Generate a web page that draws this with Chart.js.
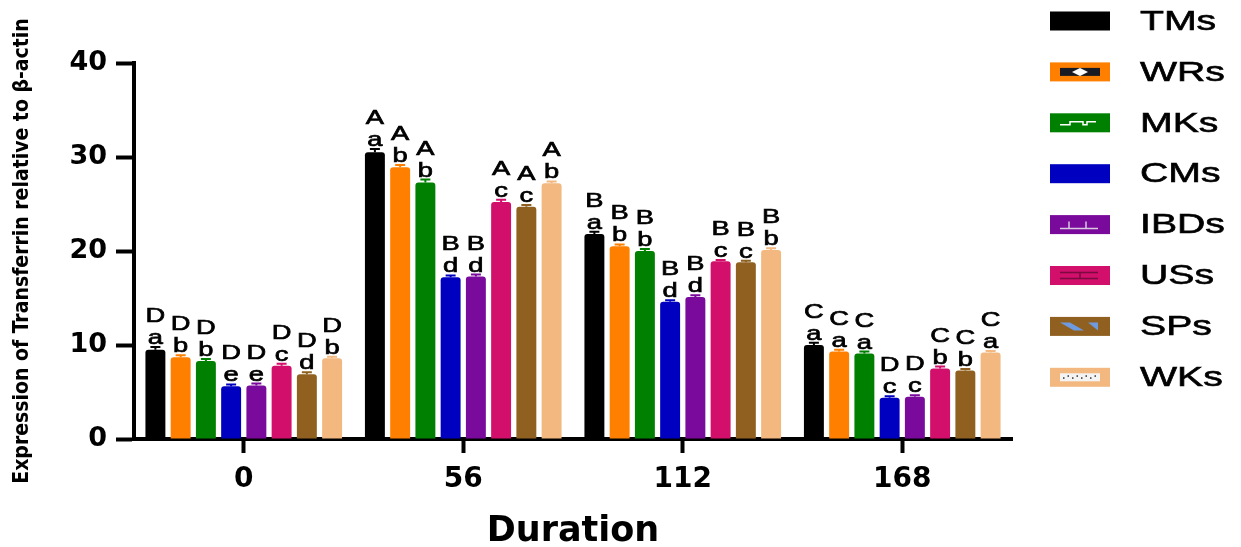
<!DOCTYPE html>
<html>
<head>
<meta charset="utf-8">
<script src="https://cdn.jsdelivr.net/npm/chart.js@4"></script>
<style>
    html, body { margin: 0; padding: 0; background: #fff; }
    #wrap { width: 1241px; height: 547px; }
</style>
</head>
<body>
<div id="wrap"><canvas id="chart"></canvas></div>
<script>
// data
const duraciones = ["0", "56", "112", "168"];
const grupos = ["TMs", "WRs", "MKs", "CMs", "IBDs", "USs", "SPs", "WKs"];

const tms  = [9.5, 30.5, 21.8, 10.0];
const wrs  = [8.7, 28.9, 20.5, 9.3];
const mks  = [8.3, 27.3, 20.0, 9.1];
const cms  = [5.6, 17.2, 14.6, 4.4];
const ibds = [5.7, 17.3, 15.1, 4.5];
const uss  = [7.8, 25.2, 18.9, 7.5];
const sps  = [6.9, 24.7, 18.8, 7.3];
const wks  = [8.6, 27.2, 20.1, 9.2];

const errTms  = [0.3, 0.35, 0.25, 0.25];
const errWrs  = [0.2, 0.25, 0.2, 0.2];
const errMks  = [0.2, 0.3, 0.2, 0.2];
const errCms  = [0.2, 0.2, 0.15, 0.15];
const errIbds = [0.2, 0.2, 0.2, 0.15];
const errUss  = [0.2, 0.25, 0.15, 0.2];
const errSps  = [0.2, 0.2, 0.15, 0.15];
const errWks  = [0.15, 0.2, 0.2, 0.15];

// letters above the bars (upper = across time, lower = across groups)
const letrasMay = [
    ["D", "A", "B", "C"], ["D", "A", "B", "C"], ["D", "A", "B", "C"], ["D", "B", "B", "D"],
    ["D", "B", "B", "D"], ["D", "A", "B", "C"], ["D", "A", "B", "C"], ["D", "A", "B", "C"]
];
const letrasMin = [
    ["a", "a", "a", "a"], ["b", "b", "b", "a"], ["b", "b", "b", "a"], ["e", "d", "d", "c"],
    ["e", "d", "d", "c"], ["c", "c", "c", "b"], ["d", "c", "c", "b"], ["b", "b", "b", "a"]
];

const yTicks = [0, 10, 20, 30, 40];

const valores = [tms, wrs, mks, cms, ibds, uss, sps, wks];
const errores = [errTms, errWrs, errMks, errCms, errIbds, errUss, errSps, errWks];
const colores = ["#000000", "#FF8000", "#008000", "#0000C0", "#7A0A9C", "#D20F6A", "#8F6020", "#F2B87F"];

const datasets = grupos.map((g, i) => ({
    label: g,
    data: valores[i],
    err: errores[i],
    may: letrasMay[i],
    min: letrasMin[i],
    backgroundColor: colores[i],
    borderWidth: 0,
    borderRadius: { topLeft: 3, topRight: 3 },
    borderSkipped: 'bottom',
    categoryPercentage: 0.92,
    barPercentage: 0.79
}));

// text drawn a bit wider, like the original export
function textoAncho(ctx, txt, x, y, escala, trazo) {
    ctx.save();
    ctx.translate(x, y);
    ctx.scale(escala, 1);
    ctx.fillText(txt, 0, 0);
    if (trazo) {
        ctx.lineWidth = trazo;
        ctx.strokeStyle = ctx.fillStyle;
        ctx.strokeText(txt, 0, 0);
    }
    ctx.restore();
}

// error bars + significance letters
const etiquetasPlugin = {
    id: 'etiquetas',
    afterDatasetsDraw(chart) {
        const ctx = chart.ctx;
        const y = chart.scales.y;
        ctx.save();
        chart.data.datasets.forEach((ds, i) => {
            const meta = chart.getDatasetMeta(i);
            meta.data.forEach((bar, j) => {
                const tope = y.getPixelForValue(ds.data[j] + ds.err[j]);
                ctx.strokeStyle = ds.backgroundColor;
                ctx.lineWidth = 2;
                ctx.beginPath();
                ctx.moveTo(bar.x, bar.y);
                ctx.lineTo(bar.x, tope);
                ctx.moveTo(bar.x - 5, tope);
                ctx.lineTo(bar.x + 5, tope);
                ctx.stroke();

                ctx.fillStyle = "#000";
                ctx.font = "21px 'Liberation Sans', Arial, sans-serif";
                ctx.textAlign = "center";
                ctx.textBaseline = "alphabetic";
                textoAncho(ctx, ds.min[j], bar.x, tope - 3, 1.3, 0.7);
                textoAncho(ctx, ds.may[j], bar.x, tope - 25, 1.3, 0.7);
            });
        });
        ctx.restore();
    }
};

// legend on the right, GraphPad style boxes
const leyendaPlugin = {
    id: 'leyenda',
    afterDraw(chart) {
        const ctx = chart.ctx;
        ctx.save();
        chart.data.datasets.forEach((ds, i) => {
            const cy = 21 + i * 50.9;
            const x0 = 1050, w = 60, h = 19;
            ctx.fillStyle = ds.backgroundColor;
            ctx.fillRect(x0, cy - h / 2, w, h);
            dibujarPatron(ctx, i, x0, cy, w, h);
            ctx.fillStyle = "#000";
            ctx.font = "28px 'Liberation Sans', Arial, sans-serif";
            ctx.textAlign = "left";
            ctx.textBaseline = "middle";
            textoAncho(ctx, ds.label, 1140, cy + 1, 1.4, 0.6);
        });
        ctx.restore();
    }
};

function dibujarPatron(ctx, i, x0, cy, w, h) {
    if (i === 1) {
        ctx.fillStyle = "#1a1a22";
        ctx.fillRect(x0 + 10, cy - 4, 40, 8);
        ctx.fillStyle = "#fff";
        ctx.beginPath();
        ctx.moveTo(x0 + 22, cy); ctx.lineTo(x0 + 30, cy - 4);
        ctx.lineTo(x0 + 38, cy); ctx.lineTo(x0 + 30, cy + 4);
        ctx.fill();
    } else if (i === 2) {
        ctx.strokeStyle = "#fff";
        ctx.lineWidth = 1.5;
        ctx.beginPath();
        ctx.moveTo(x0 + 10, cy + 2); ctx.lineTo(x0 + 20, cy + 2);
        ctx.lineTo(x0 + 20, cy - 1); ctx.lineTo(x0 + 33, cy - 1);
        ctx.lineTo(x0 + 33, cy + 2); ctx.lineTo(x0 + 37, cy + 2);
        ctx.lineTo(x0 + 37, cy - 1); ctx.lineTo(x0 + 46, cy - 1);
        ctx.stroke();
    } else if (i === 4) {
        ctx.strokeStyle = "#d8c8e0";
        ctx.lineWidth = 1.5;
        ctx.beginPath();
        ctx.moveTo(x0 + 10, cy + 4); ctx.lineTo(x0 + 48, cy + 4);
        ctx.moveTo(x0 + 19, cy + 4); ctx.lineTo(x0 + 19, cy - 3);
        ctx.moveTo(x0 + 36, cy + 4); ctx.lineTo(x0 + 36, cy - 3);
        ctx.stroke();
    } else if (i === 5) {
        ctx.strokeStyle = "#7a0a40";
        ctx.lineWidth = 1.5;
        ctx.beginPath();
        ctx.moveTo(x0 + 10, cy - 3); ctx.lineTo(x0 + 48, cy - 3);
        ctx.moveTo(x0 + 10, cy + 3); ctx.lineTo(x0 + 48, cy + 3);
        ctx.moveTo(x0 + 30, cy - 3); ctx.lineTo(x0 + 30, cy + 3);
        ctx.stroke();
    } else if (i === 6) {
        ctx.fillStyle = "#6E9AE0";
        ctx.beginPath();
        ctx.moveTo(x0 + 10, cy - 4); ctx.lineTo(x0 + 20, cy - 4);
        ctx.lineTo(x0 + 34, cy + 4); ctx.lineTo(x0 + 24, cy + 4);
        ctx.fill();
        ctx.beginPath();
        ctx.moveTo(x0 + 38, cy - 4); ctx.lineTo(x0 + 48, cy - 4);
        ctx.lineTo(x0 + 48, cy + 4);
        ctx.fill();
    } else if (i === 7) {
        ctx.fillStyle = "#f4f4f4";
        ctx.fillRect(x0 + 10, cy - 4, 40, 8);
        ctx.fillStyle = "#333";
        for (let k = 0; k < 8; k++) {
            ctx.fillRect(x0 + 13 + k * 4.5, cy - (k % 2 ? 2 : 0), 1.5, 1.5);
        }
    }
}

new Chart(document.getElementById('chart'), {
    type: 'bar',
    data: { labels: duraciones, datasets: datasets },
    options: {
        responsive: true,
        maintainAspectRatio: false,
        animation: false,
        layout: { padding: { top: 63, right: 229, bottom: 0, left: 0 } },
        plugins: {
            legend: { display: false },
            tooltip: { enabled: false }
        },
        scales: {
            x: {
                offset: true,
                grid: {
                    offset: false,
                    drawOnChartArea: false,
                    drawTicks: true,
                    tickLength: 14,
                    tickWidth: 4,
                    tickColor: "#000"
                },
                border: { display: true, color: "#000", width: 4 },
                ticks: {
                    color: "#000",
                    padding: 10,
                    font: { family: "'DejaVu Sans', sans-serif", size: 28, weight: 'bold' }
                },
                title: {
                    display: true,
                    text: "Duration",
                    color: "#000",
                    padding: { top: 0, bottom: -2 },
                    font: { family: "'DejaVu Sans', sans-serif", size: 35, weight: 'bold', lineHeight: 1 }
                },
                afterFit(scale) { scale.height = 108; }
            },
            y: {
                min: 0,
                max: 40,
                afterBuildTicks(scale) { scale.ticks = yTicks.map(v => ({ value: v })); },
                grid: {
                    drawOnChartArea: false,
                    drawTicks: true,
                    tickLength: 18,
                    tickWidth: 4,
                    tickColor: "#000"
                },
                border: { display: true, color: "#000", width: 4 },
                ticks: {
                    color: "#000",
                    padding: 9,
                    font: { family: "'DejaVu Sans', sans-serif", size: 27, weight: 'bold' }
                },
                title: {
                    display: true,
                    text: "Expression of Transferrin relative to β-actin",
                    color: "#000",
                    padding: { top: 10, bottom: 0 },
                    font: { family: "'Liberation Sans Narrow', 'DejaVu Sans Condensed', sans-serif", size: 21, weight: 'bold', lineHeight: 1.2 }
                },
                afterFit(scale) { scale.width = 134; }
            }
        }
    },
    plugins: [etiquetasPlugin, leyendaPlugin]
});
</script>
</body>
</html>
